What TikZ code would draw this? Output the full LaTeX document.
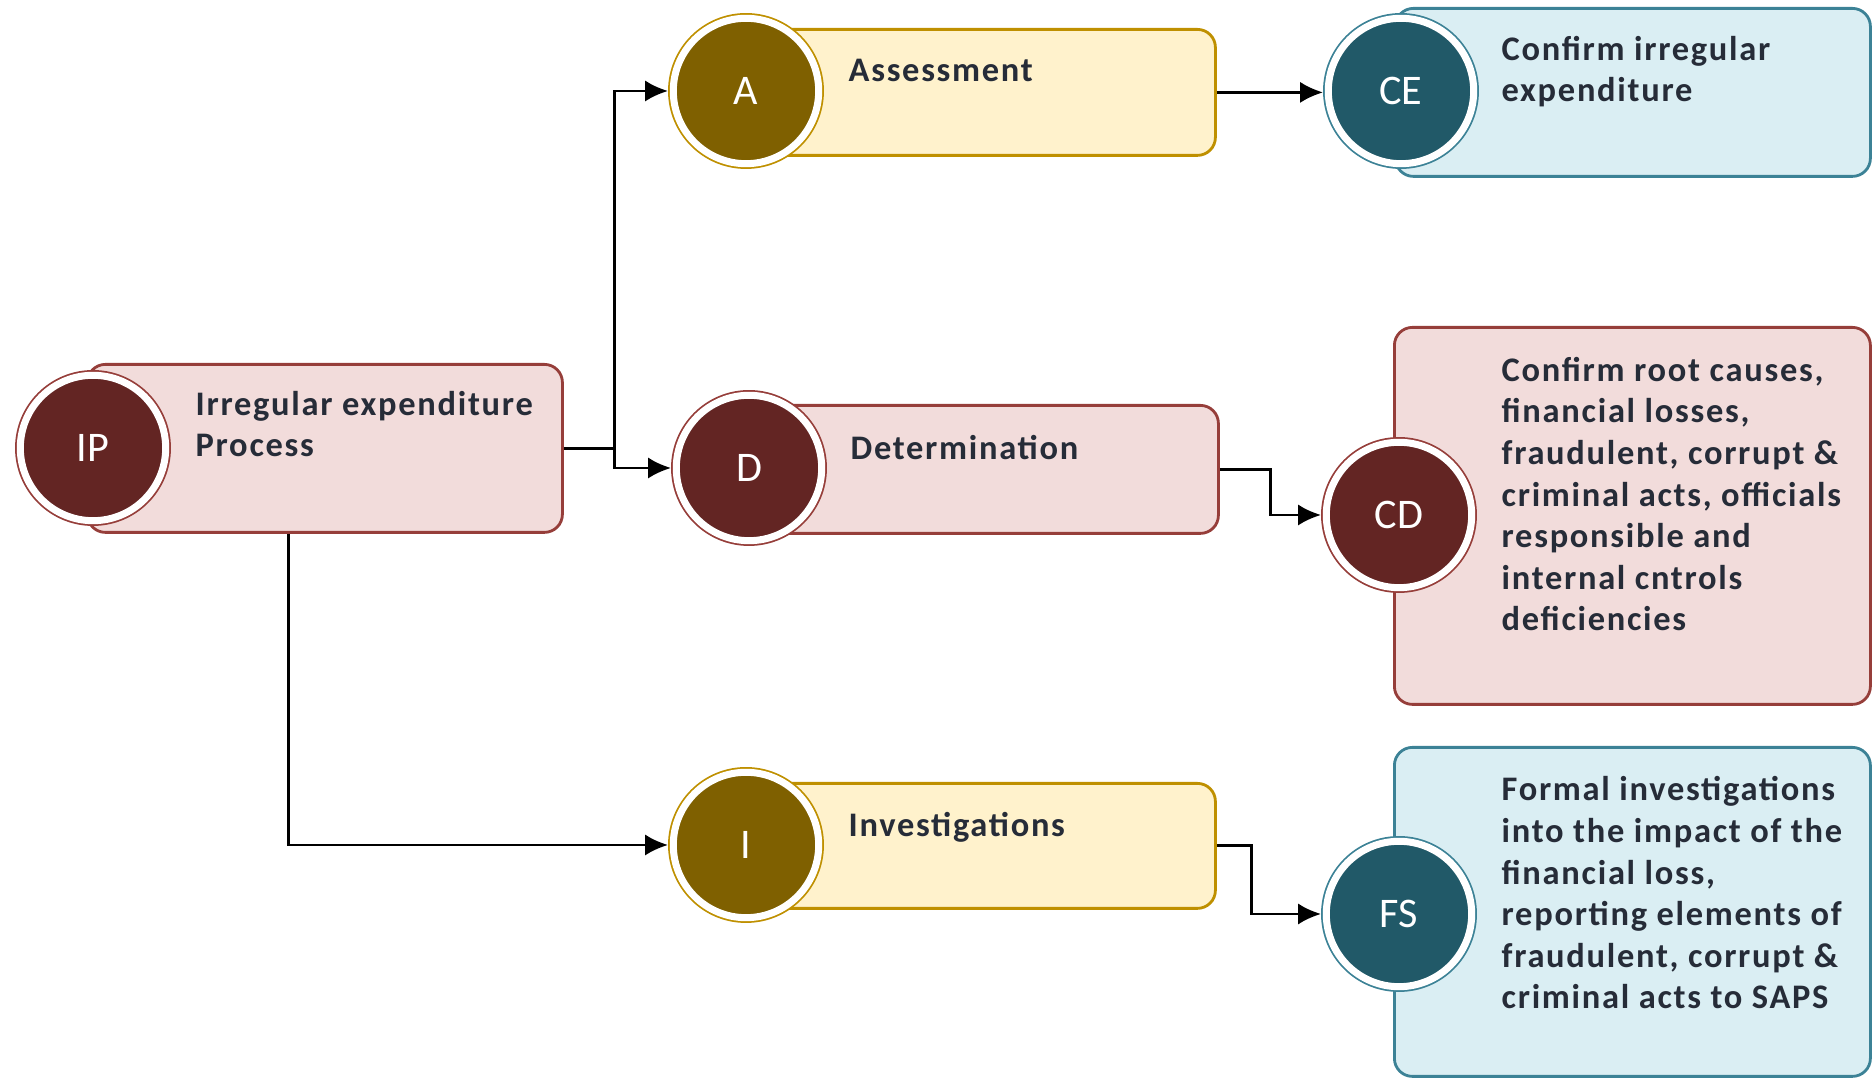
\documentclass[tikz,border=0pt]{standalone}
\usepackage{fontspec}
\setmainfont{Carlito}
\newfontfamily\bodyfont{Carlito}[LetterSpace=5]
\usetikzlibrary{arrows.meta, positioning, calc}
\definecolor{reddark}{RGB}{99,37,35}
\definecolor{redfill}{RGB}{242,220,219}
\definecolor{redline}{RGB}{150,62,58}
\definecolor{golddark}{RGB}{127,96,0}
\definecolor{goldfill}{RGB}{255,242,204}
\definecolor{goldline}{RGB}{191,144,0}
\definecolor{tealdark}{RGB}{33,89,104}
\definecolor{tealfill}{RGB}{218,238,243}
\definecolor{tealline}{RGB}{60,130,150}
\definecolor{ink}{RGB}{38,44,56}

\begin{document}
\begin{tikzpicture}[
    box/.style={draw, line width=0.8pt, rounded corners=0.18cm, anchor=north west, inner sep=0pt},
    redbox/.style={box, draw=redline, fill=redfill},
    goldbox/.style={box, draw=goldline, fill=goldfill},
    tealbox/.style={box, draw=tealline, fill=tealfill},
    badge/.style={circle, minimum size=1.454cm, inner sep=0pt, outer sep=1.5pt,
        draw=white, line width=2pt, text=white, font=\fontsize{12}{14}\selectfont},
    redbadge/.style={badge, fill=reddark, preaction={draw=redline, line width=3pt}},
    goldbadge/.style={badge, fill=golddark, preaction={draw=goldline, line width=3pt}},
    tealbadge/.style={badge, fill=tealdark, preaction={draw=tealline, line width=3pt}},
    txt/.style={anchor=base west, align=left, inner sep=0pt, text=ink,
        font=\bodyfont\bfseries\fontsize{9.8}{11.85}\selectfont},
    conn/.style={-{Latex[length=6.5pt,width=6pt]}, line width=0.8pt}
]
\useasboundingbox (0,0) rectangle (18.72,-10.78);

% Proceso inicial (base = ultima linea)
\node[redbox, minimum width=4.75cm, minimum height=1.68cm] (ipb) at (0.86,-3.63) {};
\node[redbadge] (ip) at (0.93,-4.48) {IP};
\node[txt] (ipt) at (1.95,-4.57) {Irregular expenditure\\Process};

% Etapas
\node[goldbox, minimum width=4.75cm, minimum height=1.26cm] (ab) at (7.39,-0.28) {};
\node[goldbadge] (a) at (7.46,-0.91) {A};
\node[txt] (at) at (8.48,-0.82) {Assessment};

\node[redbox, minimum width=4.78cm, minimum height=1.28cm] (db) at (7.39,-4.04) {};
\node[redbadge] (d) at (7.49,-4.68) {D};
\node[txt] (dt) at (8.50,-4.60) {Determination};

\node[goldbox, minimum width=4.75cm, minimum height=1.25cm] (ib) at (7.39,-7.82) {};
\node[goldbadge] (i) at (7.46,-8.45) {I};
\node[txt] (it) at (8.48,-8.37) {Investigations};

% Resultados
\node[tealbox, minimum width=4.75cm, minimum height=1.68cm] (ceb) at (13.94,-0.07) {};
\node[tealbadge] (ce) at (14.01,-0.91) {CE};
\node[txt] (cet) at (15.01,-1.02) {Confirm irregular\\expenditure};

\node[redbox, minimum width=4.76cm, minimum height=3.77cm] (cdb) at (13.93,-3.26) {};
\node[redbadge] (cd) at (13.99,-5.15) {CD};
\node[txt] (cdt) at (15.01,-6.31) {Confirm root causes,\\financial losses,\\fraudulent, corrupt \&\\criminal acts, officials\\responsible and\\internal cntrols\\deficiencies};

\node[tealbox, minimum width=4.76cm, minimum height=3.29cm] (fsb) at (13.93,-7.46) {};
\node[tealbadge] (fs) at (13.99,-9.14) {FS};
\node[txt] (fst) at (15.01,-10.09) {Formal investigations\\into the impact of the\\financial loss,\\reporting elements of\\fraudulent, corrupt \&\\criminal acts to SAPS};

% Conectores
\draw[conn] (ipb.east) -- ++(0.51,0) coordinate (split) |- (a.west);
\draw[conn] (split) |- (d.west);
\draw[conn] ([xshift=-0.365cm]ipb.south) |- (i.west);
\draw[conn] (ab.east) -- (ab.east -| ce.west);
\draw[conn] (db.east) -- ++(0.51,0) |- (cd.west);
\draw[conn] (ib.east) -- ++(0.35,0) |- (fs.west);

\end{tikzpicture}
\end{document}
